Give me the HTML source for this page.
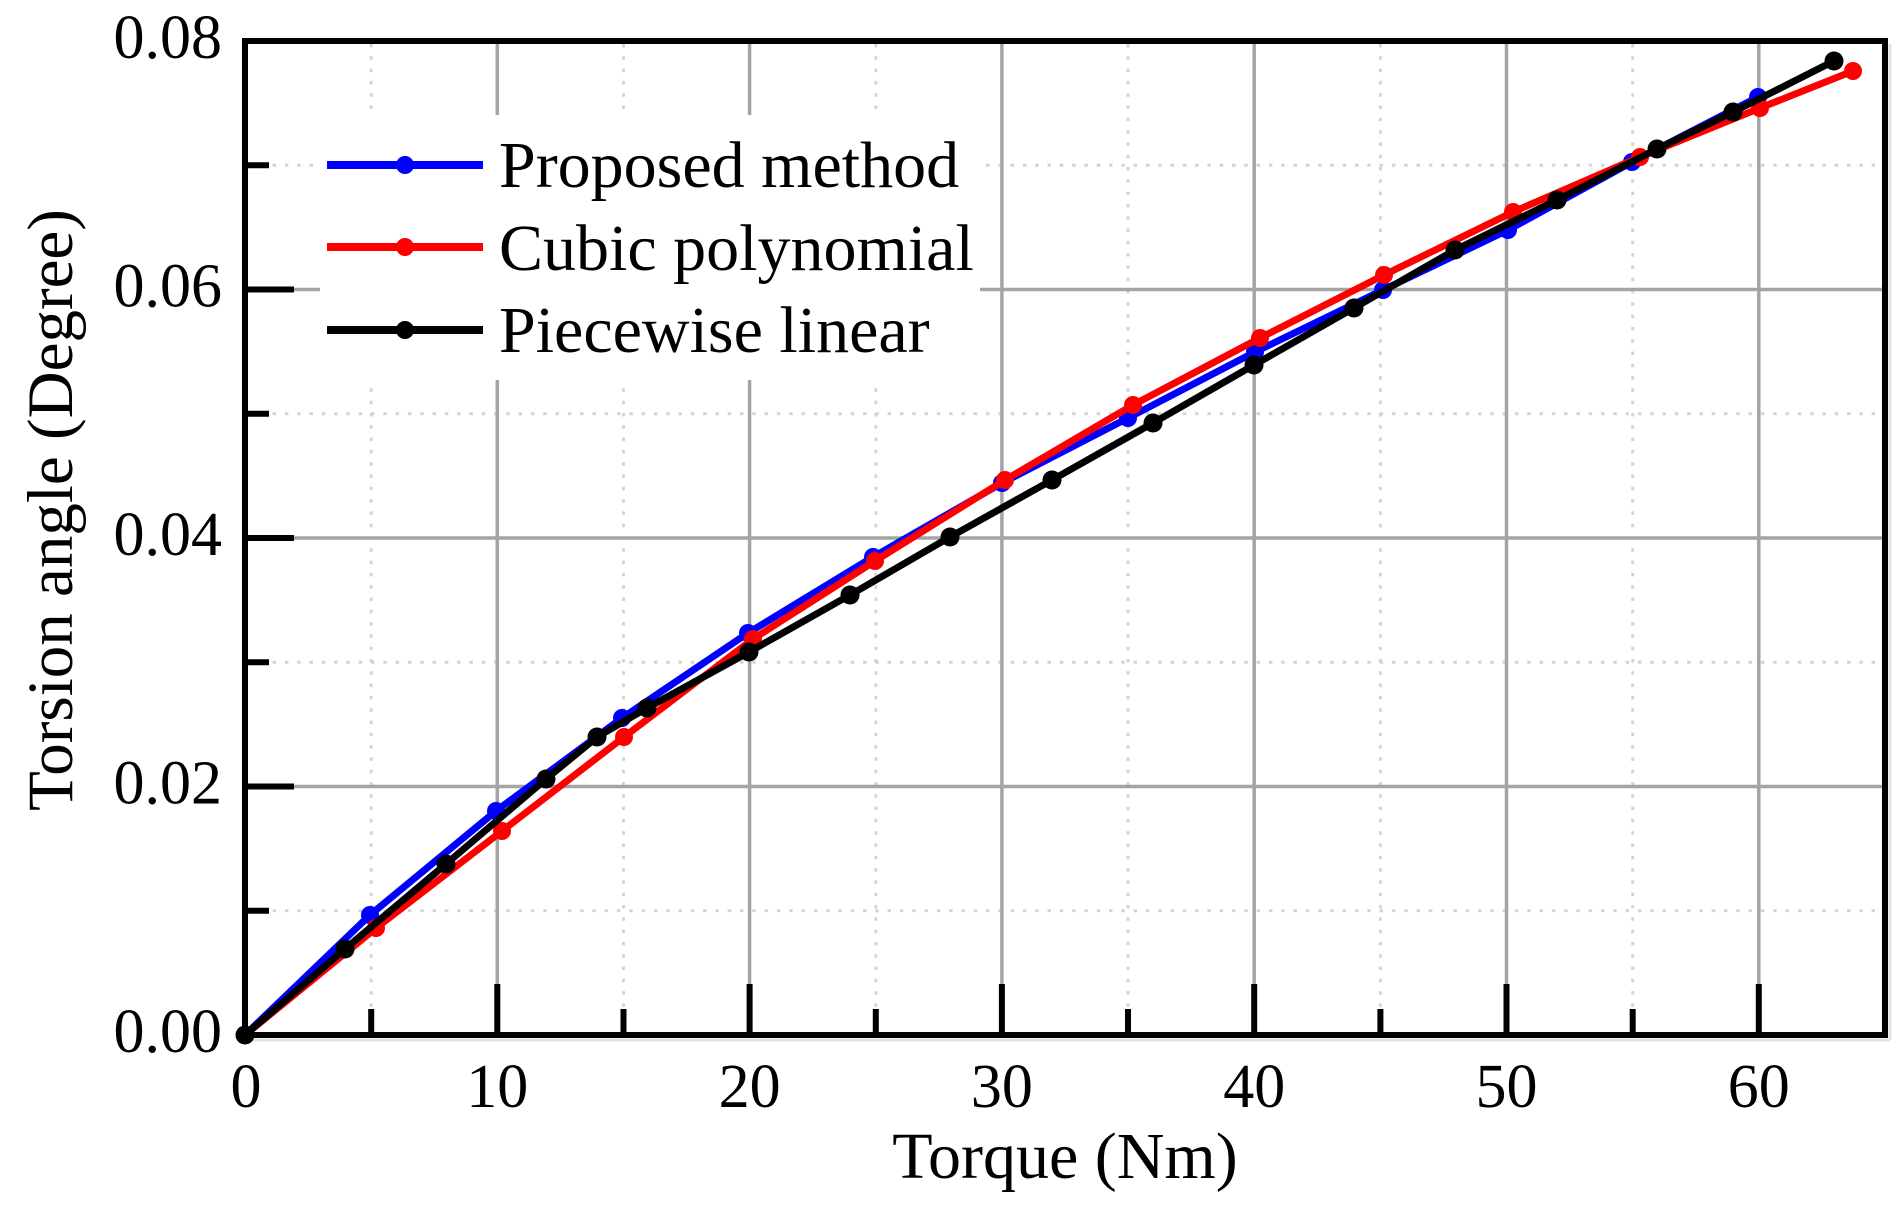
<!DOCTYPE html>
<html>
<head>
<meta charset="utf-8">
<style>
  html, body { margin: 0; padding: 0; background: #ffffff; }
  svg { display: block; }
  text { font-family: "Liberation Serif", "Times New Roman", serif; fill: #000; }
</style>
</head>
<body>
<svg width="1901" height="1208" viewBox="0 0 1901 1208" xmlns="http://www.w3.org/2000/svg">
  <rect x="0" y="0" width="1901" height="1208" fill="#ffffff"/>

  <!-- faint shadow -->
  <line x1="248" y1="1040" x2="1890" y2="1040" stroke="#e2e2e2" stroke-width="3"/>
  <line x1="1890" y1="44" x2="1890" y2="1040" stroke="#e2e2e2" stroke-width="3"/>

  <!-- minor dotted gridlines -->
  <g stroke="#d4d4d4" stroke-width="3" stroke-dasharray="3.5 8.8" fill="none">
    <line x1="371.2" y1="44" x2="371.2" y2="1032"/>
    <line x1="623.5" y1="44" x2="623.5" y2="1032"/>
    <line x1="875.8" y1="44" x2="875.8" y2="1032"/>
    <line x1="1128.0" y1="44" x2="1128.0" y2="1032"/>
    <line x1="1380.4" y1="44" x2="1380.4" y2="1032"/>
    <line x1="1632.7" y1="44" x2="1632.7" y2="1032"/>
    <line x1="248" y1="910.75" x2="1882" y2="910.75"/>
    <line x1="248" y1="662.25" x2="1882" y2="662.25"/>
    <line x1="248" y1="413.75" x2="1882" y2="413.75"/>
    <line x1="248" y1="165.25" x2="1882" y2="165.25"/>
  </g>

  <!-- major gridlines -->
  <g stroke="#a4a4a4" stroke-width="3.5" fill="none">
    <line x1="497.3" y1="44" x2="497.3" y2="1032"/>
    <line x1="749.6" y1="44" x2="749.6" y2="1032"/>
    <line x1="1001.9" y1="44" x2="1001.9" y2="1032"/>
    <line x1="1254.2" y1="44" x2="1254.2" y2="1032"/>
    <line x1="1506.5" y1="44" x2="1506.5" y2="1032"/>
    <line x1="1758.8" y1="44" x2="1758.8" y2="1032"/>
    <line x1="248" y1="786.5" x2="1882" y2="786.5"/>
    <line x1="248" y1="538" x2="1882" y2="538"/>
    <line x1="248" y1="289.5" x2="1882" y2="289.5"/>
  </g>

  <!-- legend background -->
  <rect x="320" y="115" width="660" height="265" fill="#ffffff"/>

  <!-- ticks -->
  <g stroke="#000" stroke-width="6" fill="none">
    <!-- bottom major -->
    <line x1="497.3" y1="1035" x2="497.3" y2="984"/>
    <line x1="749.6" y1="1035" x2="749.6" y2="984"/>
    <line x1="1001.9" y1="1035" x2="1001.9" y2="984"/>
    <line x1="1254.2" y1="1035" x2="1254.2" y2="984"/>
    <line x1="1506.5" y1="1035" x2="1506.5" y2="984"/>
    <line x1="1758.8" y1="1035" x2="1758.8" y2="984"/>
    <!-- bottom minor -->
    <line x1="371.2" y1="1035" x2="371.2" y2="1009"/>
    <line x1="623.5" y1="1035" x2="623.5" y2="1009"/>
    <line x1="875.8" y1="1035" x2="875.8" y2="1009"/>
    <line x1="1128.0" y1="1035" x2="1128.0" y2="1009"/>
    <line x1="1380.4" y1="1035" x2="1380.4" y2="1009"/>
    <line x1="1632.7" y1="1035" x2="1632.7" y2="1009"/>
    <!-- left major -->
    <line x1="245" y1="786.5" x2="294" y2="786.5"/>
    <line x1="245" y1="538" x2="294" y2="538"/>
    <line x1="245" y1="289.5" x2="294" y2="289.5"/>
    <!-- left minor -->
    <line x1="245" y1="910.75" x2="269" y2="910.75"/>
    <line x1="245" y1="662.25" x2="269" y2="662.25"/>
    <line x1="245" y1="413.75" x2="269" y2="413.75"/>
    <line x1="245" y1="165.25" x2="269" y2="165.25"/>
  </g>

  <!-- series: Proposed method (blue) -->
  <g>
    <polyline fill="none" stroke="#0000ff" stroke-width="7" stroke-linejoin="round"
      points="245,1035 370,915 496,811 622,718 748,633 873,557 1002,483 1128,418 1255,352 1383,290 1508,230 1632,162 1758,97"/>
    <g fill="#0000ff">
      <circle cx="245" cy="1035" r="9"/>
      <circle cx="370" cy="915" r="9"/>
      <circle cx="496" cy="811" r="9"/>
      <circle cx="622" cy="718" r="9"/>
      <circle cx="748" cy="633" r="9"/>
      <circle cx="873" cy="557" r="9"/>
      <circle cx="1002" cy="483" r="9"/>
      <circle cx="1128" cy="418" r="9"/>
      <circle cx="1255" cy="352" r="9"/>
      <circle cx="1383" cy="290" r="9"/>
      <circle cx="1508" cy="230" r="9"/>
      <circle cx="1632" cy="162" r="9"/>
      <circle cx="1758" cy="97" r="9"/>
    </g>
  </g>

  <!-- series: Cubic polynomial (red) -->
  <g>
    <polyline fill="none" stroke="#ff0000" stroke-width="7" stroke-linejoin="round"
      points="245,1035 376,928 502,831 624,737 753,639 875,561 1005,480 1133,405 1260,338 1384,275 1513,212 1640,157 1760,108 1853,71"/>
    <g fill="#ff0000">
      <circle cx="245" cy="1035" r="9"/>
      <circle cx="376" cy="928" r="9"/>
      <circle cx="502" cy="831" r="9"/>
      <circle cx="624" cy="737" r="9"/>
      <circle cx="753" cy="639" r="9"/>
      <circle cx="875" cy="561" r="9"/>
      <circle cx="1005" cy="480" r="9"/>
      <circle cx="1133" cy="405" r="9"/>
      <circle cx="1260" cy="338" r="9"/>
      <circle cx="1384" cy="275" r="9"/>
      <circle cx="1513" cy="212" r="9"/>
      <circle cx="1640" cy="157" r="9"/>
      <circle cx="1760" cy="108" r="9"/>
      <circle cx="1853" cy="71" r="9"/>
    </g>
  </g>

  <!-- series: Piecewise linear (black) -->
  <g>
    <polyline fill="none" stroke="#000000" stroke-width="7" stroke-linejoin="round"
      points="245,1035 345,949 446,864 546,779 597,737 647,708 749,652 850,595 950,537 1052,480 1153,423 1254,365 1354,308 1455,250 1557,200 1657,149 1733,112 1834,61"/>
    <g fill="#000000">
      <circle cx="245" cy="1035" r="9.5"/>
      <circle cx="345" cy="949" r="9.5"/>
      <circle cx="446" cy="864" r="9.5"/>
      <circle cx="546" cy="779" r="9.5"/>
      <circle cx="597" cy="737" r="9.5"/>
      <circle cx="647" cy="708" r="9.5"/>
      <circle cx="749" cy="652" r="9.5"/>
      <circle cx="850" cy="595" r="9.5"/>
      <circle cx="950" cy="537" r="9.5"/>
      <circle cx="1052" cy="480" r="9.5"/>
      <circle cx="1153" cy="423" r="9.5"/>
      <circle cx="1254" cy="365" r="9.5"/>
      <circle cx="1354" cy="308" r="9.5"/>
      <circle cx="1455" cy="250" r="9.5"/>
      <circle cx="1557" cy="200" r="9.5"/>
      <circle cx="1657" cy="149" r="9.5"/>
      <circle cx="1733" cy="112" r="9.5"/>
      <circle cx="1834" cy="61" r="9.5"/>
    </g>
  </g>

  <!-- axes frame -->
  <rect x="245" y="41" width="1640" height="994" fill="none" stroke="#000" stroke-width="6"/>

  <!-- legend -->
  <g>
    <line x1="327" y1="165" x2="483" y2="165" stroke="#0000ff" stroke-width="8"/>
    <circle cx="405" cy="165" r="9" fill="#0000ff"/>
    <line x1="327" y1="247" x2="483" y2="247" stroke="#ff0000" stroke-width="8"/>
    <circle cx="405" cy="247" r="9" fill="#ff0000"/>
    <line x1="327" y1="330" x2="483" y2="330" stroke="#000000" stroke-width="8"/>
    <circle cx="405" cy="330" r="9" fill="#000000"/>
    <text x="499" y="187" font-size="66">Proposed method</text>
    <text x="499" y="270" font-size="66">Cubic polynomial</text>
    <text x="499" y="352" font-size="66">Piecewise linear</text>
  </g>

  <!-- y tick labels -->
  <g font-size="62" text-anchor="end">
    <text x="222" y="1052">0.00</text>
    <text x="222" y="803.5">0.02</text>
    <text x="222" y="555">0.04</text>
    <text x="222" y="306.5">0.06</text>
    <text x="222" y="58">0.08</text>
  </g>

  <!-- x tick labels -->
  <g font-size="62" text-anchor="middle">
    <text x="246" y="1107">0</text>
    <text x="497.3" y="1107">10</text>
    <text x="749.6" y="1107">20</text>
    <text x="1001.9" y="1107">30</text>
    <text x="1254.2" y="1107">40</text>
    <text x="1506.5" y="1107">50</text>
    <text x="1758.8" y="1107">60</text>
  </g>

  <!-- axis titles -->
  <text x="1065" y="1178" font-size="66" text-anchor="middle">Torque (Nm)</text>
  <text transform="translate(72,510) rotate(-90)" x="0" y="0" font-size="65" text-anchor="middle">Torsion angle (Degree)</text>
</svg>
</body>
</html>
